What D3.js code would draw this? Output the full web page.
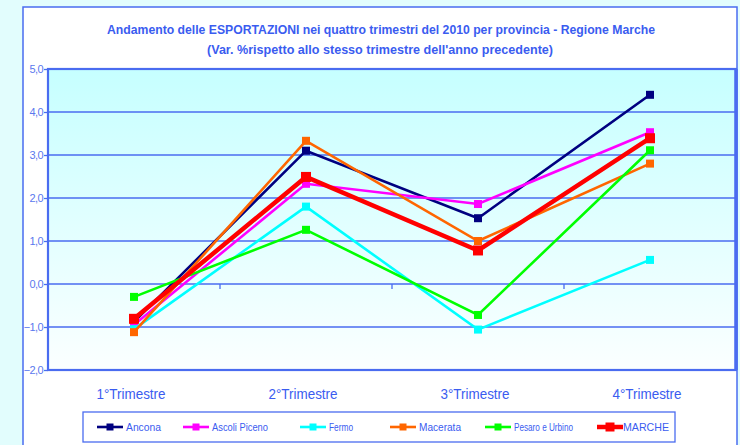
<!DOCTYPE html>
<html><head><meta charset="utf-8">
<script src="https://cdn.jsdelivr.net/npm/d3@7"></script>
<style>
html,body{margin:0;padding:0;background:#e2fdfd;}
svg{display:block;}
text{font-family:"Liberation Sans Narrow","Arial Narrow","Liberation Sans",Arial,sans-serif;}
</style></head>
<body>
<svg id="c" width="740" height="445"></svg>
<script>
const categories = ["1°Trimestre","2°Trimestre","3°Trimestre","4°Trimestre"];
const seriesNames = ["Ancona","Ascoli Piceno","Fermo","Macerata","Pesaro e Urbino","MARCHE"];
const seriesColors = ["#000080","#ff00ff","#00ffff","#ff6600","#00ff00","#ff0000"];
const ancona   = [-0.88, 3.10, 1.53, 4.40];
const ascoli   = [-0.95, 2.33, 1.86, 3.53];
const fermo    = [-1.05, 1.80, -1.06, 0.56];
const macerata = [-1.12, 3.33, 1.00, 2.80];
const pesaro   = [-0.30, 1.26, -0.72, 3.11];
const marche   = [-0.81, 2.49, 0.78, 3.39];
const seriesValues = [ancona, ascoli, fermo, macerata, pesaro, marche];
const yTicks = [-2,-1,0,1,2,3,4,5];
const titleLines = ["Andamento delle ESPORTAZIONI nei quattro trimestri del 2010 per provincia - Regione Marche",
                    "(Var. %rispetto allo stesso trimestre dell'anno precedente)"];

const svg = d3.select("#c");
const blue = "#4a6cf0";
const textBlue = "#3a5cf0";

// chart box
svg.append("rect").attr("x",23).attr("y",7).attr("width",714).attr("height",445)
  .attr("fill","#ffffff").attr("stroke",blue).attr("stroke-width",1.5);

// gradient
const defs = svg.append("defs");
const g = defs.append("linearGradient").attr("id","bg").attr("x1",0).attr("y1",0).attr("x2",0).attr("y2",1);
g.append("stop").attr("offset","0%").attr("stop-color","#c6ffff");
g.append("stop").attr("offset","100%").attr("stop-color","#fbffff");

const L = 48, R = 736, T = 69, B = 370;
const x = d3.scaleBand().domain(categories).range([L,R]).padding(0);
const y = d3.scaleLinear().domain([-2,5]).range([B,T]);

svg.append("rect").attr("x",L).attr("y",T).attr("width",R-L).attr("height",B-T).attr("fill","url(#bg)");

// gridlines
svg.append("g").selectAll("line").data(yTicks.filter(d=>d>-2 && d<5)).join("line")
  .attr("x1",L).attr("x2",R).attr("y1",d=>y(d)).attr("y2",d=>y(d))
  .attr("stroke",blue).attr("stroke-width",1.3);

// plot border
svg.append("rect").attr("x",L).attr("y",T).attr("width",R-L).attr("height",B-T)
  .attr("fill","none").attr("stroke",blue).attr("stroke-width",2.2);
svg.append("line").attr("x1",R).attr("x2",R).attr("y1",T).attr("y2",B).attr("stroke",blue).attr("stroke-width",3.5);

// y axis
const yAxis = d3.axisLeft(y).tickValues(yTicks).tickSize(4)
  .tickFormat(d=>d3.format(".1f")(d).replace(".",","));
const ya = svg.append("g").attr("transform",`translate(${L},0)`).call(yAxis);
ya.select(".domain").remove();
ya.selectAll(".tick line").attr("stroke",blue).attr("stroke-width",1.3);
ya.selectAll(".tick text").attr("fill","#5a78ee").attr("font-size",11).attr("x",-5)
  .attr("letter-spacing","-0.6px");

// x axis at 0 with category boundary ticks
const xa = svg.append("g").attr("transform",`translate(0,${y(0)})`);
xa.selectAll("line").data(categories.slice(1)).join("line")
  .attr("x1",d=>x(d)).attr("x2",d=>x(d)).attr("y1",0).attr("y2",5)
  .attr("stroke",blue).attr("stroke-width",1.3);

// category labels
svg.append("g").selectAll("text").data(categories).join("text")
  .attr("x",d=>x(d)+x.bandwidth()/2-3).attr("y",399)
  .attr("text-anchor","middle").attr("fill",textBlue).attr("font-size",14.5)
  .attr("textLength",69).attr("lengthAdjust","spacingAndGlyphs")
  .text(d=>d);

// lines
const line = d3.line().x((d,i)=>x(categories[i])+x.bandwidth()/2).y(d=>y(d));
seriesValues.forEach((vals,si)=>{
  const isM = si===5;
  const gg = svg.append("g");
  gg.append("path").datum(vals).attr("d",line).attr("fill","none")
    .attr("stroke",seriesColors[si]).attr("stroke-width",isM?4.5:2.6).attr("stroke-linejoin","miter");
  const s = isM?10:8;
  gg.selectAll("rect").data(vals).join("rect")
    .attr("x",(d,i)=>x(categories[i])+x.bandwidth()/2-s/2)
    .attr("y",d=>y(d)-s/2).attr("width",s).attr("height",s)
    .attr("fill",seriesColors[si]);
});

// title
svg.append("text").attr("x",381).attr("y",34).attr("text-anchor","middle")
  .attr("fill",textBlue).attr("font-size",13).attr("font-weight","bold")
  .attr("textLength",548).attr("lengthAdjust","spacingAndGlyphs").text(titleLines[0]);
svg.append("text").attr("x",380).attr("y",54).attr("text-anchor","middle")
  .attr("fill",textBlue).attr("font-size",13).attr("font-weight","bold")
  .attr("textLength",346).attr("lengthAdjust","spacingAndGlyphs").text(titleLines[1]);

// legend
svg.append("rect").attr("x",83).attr("y",412).attr("width",592).attr("height",30)
  .attr("fill","#ffffff").attr("stroke",blue).attr("stroke-width",1.3);
const legX = [97,183,300,390,485,597];
const legW = [35,56,24,42,59,46];
seriesNames.forEach((n,i)=>{
  const isM = i===5;
  const lg = svg.append("g");
  lg.append("line").attr("x1",legX[i]).attr("x2",legX[i]+26).attr("y1",427).attr("y2",427)
    .attr("stroke",seriesColors[i]).attr("stroke-width",isM?4.5:2.6);
  const s = isM?9:7;
  lg.append("rect").attr("x",legX[i]+13-s/2).attr("y",427-s/2).attr("width",s).attr("height",s)
    .attr("fill",seriesColors[i]);
  lg.append("text").attr("x",legX[i]+(isM?26:29)).attr("y",431).attr("fill",textBlue)
    .attr("font-size",11).attr("textLength",legW[i]).attr("lengthAdjust","spacingAndGlyphs").text(n);
});
</script>
</body></html>
